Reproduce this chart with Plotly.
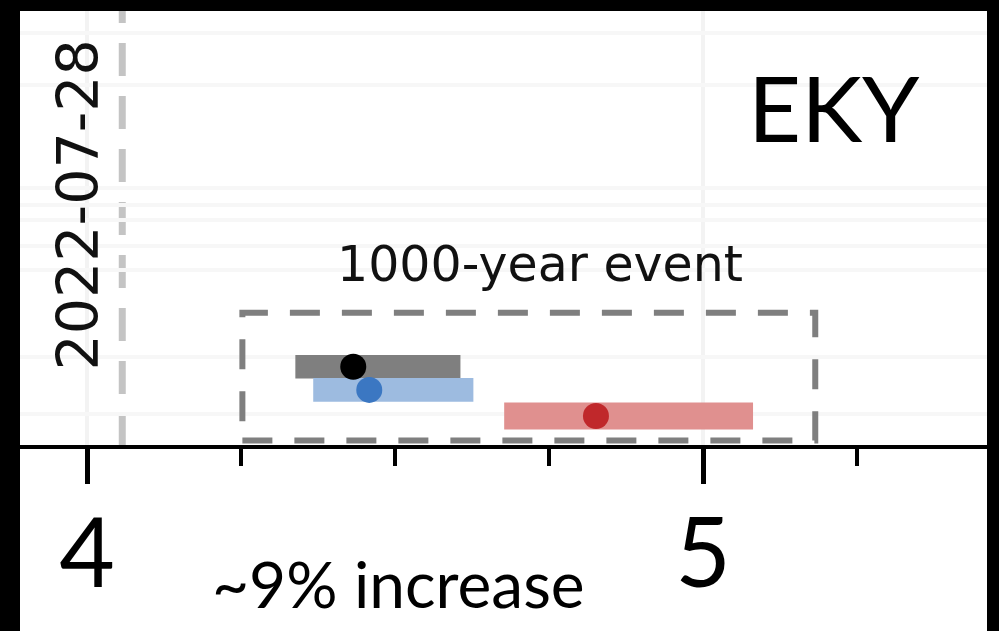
import plotly.graph_objects as go

# ---- data ----
series_names = ["observed", "historical", "future"]
best_estimate = [4.432, 4.458, 4.826]
range_low = [4.338, 4.367, 4.677]
range_high = [4.606, 4.627, 5.081]
bar_colors = ["#7f7f7f", "#9dbbe0", "#e0908f"]
dot_colors = ["#000000", "#3b77c2", "#c0282b"]
row_pos = [1.84, 1.31, 0.71]
row_height = [0.54, 0.55, 0.62]

event_low, event_high = 4.252, 5.182
event_date_x = 4.057
tick_values = [4, 5]
tick_labels = ["4", "5"]
faint_grid_y = [0.75, 2.07, 4.05, 4.6, 5.2, 5.55, 5.95, 8.3, 9.5]

# layout constants (pixels)
FIG_W, FIG_H = 999, 631
M_L, M_R, M_T, M_B = 20, 0, 11, 184
FRAME_R = 12  # black frame width on the right side
plot_w = FIG_W - M_L - M_R
panel_right = (plot_w - FRAME_R) / plot_w

fig = go.Figure()

for i in range(3):
    fig.add_trace(go.Bar(
        orientation="h",
        y=[row_pos[i]],
        base=[range_low[i]],
        x=[range_high[i] - range_low[i]],
        width=row_height[i],
        marker=dict(color=bar_colors[i], line=dict(width=0)),
        showlegend=False,
        name=series_names[i],
    ))
for i in range(3):
    fig.add_trace(go.Scatter(
        x=[best_estimate[i]], y=[row_pos[i]],
        mode="markers",
        marker=dict(color=dot_colors[i], size=26, line=dict(width=0)),
        showlegend=False,
        name=series_names[i],
    ))

# white panel behind everything
fig.add_shape(type="rect", xref="paper", yref="paper",
              x0=0, x1=panel_right, y0=-0.5, y1=1,
              fillcolor="white", line=dict(width=0), layer="below")

# dashed event date line
fig.add_shape(type="line", xref="x", yref="y",
              x0=event_date_x, x1=event_date_x, y0=0, y1=10,
              line=dict(color="#c4c4c4", width=7, dash="33px,20px"), layer="below")

# dashed 1000-year box
fig.add_shape(type="rect", xref="x", yref="y",
              x0=event_low, x1=event_high, y0=0.15, y1=3.08,
              line=dict(color="#7f7f7f", width=6, dash="30px,22px"),
              fillcolor="rgba(0,0,0,0)", layer="above")

# x axis baseline
fig.add_shape(type="line", xref="paper", yref="paper",
              x0=0, x1=panel_right, y0=0, y1=0,
              line=dict(color="black", width=4), layer="above")

# black frame on the right edge
fig.add_shape(type="rect", xref="paper", yref="paper",
              x0=panel_right, x1=1.05, y0=-0.5, y1=1.05,
              fillcolor="black", line=dict(width=0), layer="above")

fig.add_annotation(x=4.735, y=4.18, xref="x", yref="y", text="1000-year event",
                   showarrow=False, yanchor="middle",
                   font=dict(family="DejaVu Sans", size=49, color="#111"))
fig.add_annotation(x=5.213, y=7.82, xref="x", yref="y", text="EKY",
                   showarrow=False, yanchor="middle",
                   font=dict(family="Lato", size=92, color="#000"))
fig.add_annotation(x=3.985, y=5.56, xref="x", yref="y", text="2022-07-28",
                   textangle=-90, showarrow=False,
                   font=dict(family="DejaVu Sans", size=57, color="#111"))
fig.add_annotation(x=4.506, y=-0.313, xref="x", yref="paper", text="~9% increase",
                   showarrow=False, yanchor="middle",
                   font=dict(family="Lato", size=64, color="#000"))

x_left = 3.891
px_per_unit = 616.0
x_right = x_left + plot_w / px_per_unit

fig.update_layout(
    width=FIG_W, height=FIG_H,
    margin=dict(l=M_L, r=M_R, t=M_T, b=M_B, autoexpand=False),
    paper_bgcolor="black",
    plot_bgcolor="rgba(0,0,0,0)",
    barmode="overlay",
    xaxis=dict(
        range=[x_left, x_right],
        tickvals=tick_values, ticktext=tick_labels,
        ticks="outside", ticklen=36, tickwidth=5, tickcolor="black",
        tickfont=dict(family="Lato", size=96, color="black"),
        ticklabelstandoff=-12,
        showline=False,
        showgrid=True, gridcolor="#f3f3f3", gridwidth=4,
        zeroline=False,
        minor=dict(tickvals=[4.25, 4.5, 4.75, 5.25], ticks="outside", ticklen=18,
                   tickwidth=4, tickcolor="black", showgrid=False),
        fixedrange=True,
    ),
    yaxis=dict(
        range=[0, 10], showticklabels=False, ticks="",
        tickvals=faint_grid_y, showgrid=True, gridcolor="#f7f7f7", gridwidth=4,
        zeroline=False, showline=False, fixedrange=True,
    ),
)

fig.write_html(
    "out.html",
    config={"displayModeBar": False},
    post_script=(
        "document.body.style.margin='0';"
        "document.body.style.background='black';"
        "document.documentElement.style.background='black';"
        "document.body.style.overflow='hidden';"
        "document.documentElement.style.overflow='hidden';"
    ),
)
